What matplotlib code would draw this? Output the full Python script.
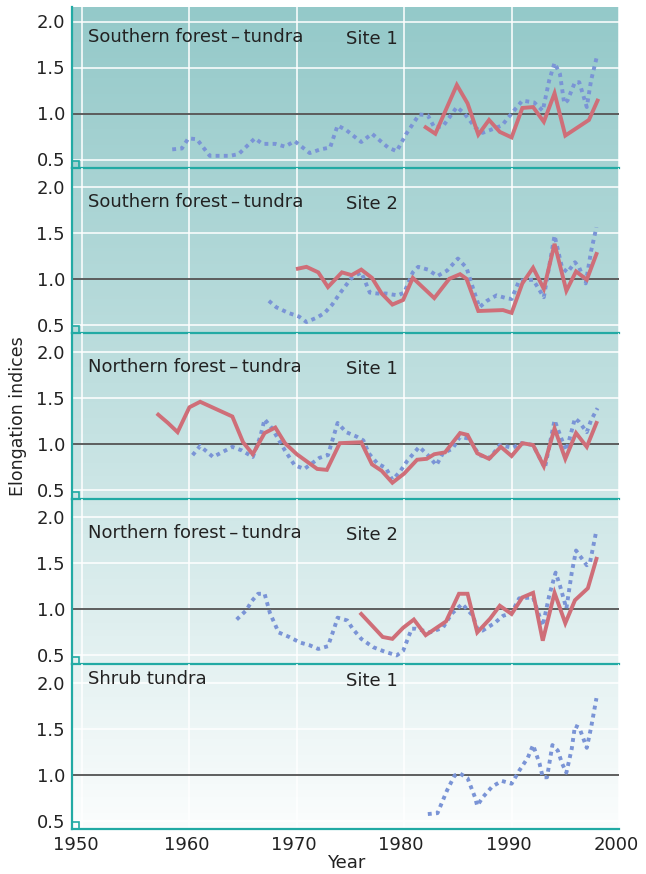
import numpy as np
import matplotlib
matplotlib.use("Agg")
import matplotlib.pyplot as plt
from matplotlib.patches import Rectangle
from matplotlib.colors import LinearSegmentedColormap
from matplotlib.transforms import ScaledTranslation

plt.rcParams['font.family'] = ['DejaVu Sans']

# ---------------- data ----------------
panel_titles = ["Southern forest\u2009\u2013\u2009tundra", "Southern forest\u2009\u2013\u2009tundra",
                "Northern forest\u2009\u2013\u2009tundra", "Northern forest\u2009\u2013\u2009tundra",
                "Shrub tundra"]
site_labels = ["Site 1", "Site 2", "Site 1", "Site 2", "Site 1"]

# Panel 1
p1_blue_x = [1958.4, 1959.3, 1959.9, 1960.7, 1961.9, 1963.8, 1964.6, 1966.1, 1966.8, 1968.0, 1968.9,
             1969.8, 1971.2, 1972.2, 1973.1, 1973.8, 1974.6, 1976.0, 1977.0, 1977.5, 1978.5, 1979.3,
             1980.2, 1981.4, 1982.2, 1982.8, 1983.6, 1984.9, 1985.6, 1986.6, 1987.3, 1988.0, 1989.1,
             1990.0, 1991.0, 1992.1, 1992.9, 1993.5, 1994.0, 1994.5, 1994.9, 1995.2, 1995.9, 1996.3,
             1997.0, 1997.4, 1997.9]
p1_blue_y = [0.61, 0.62, 0.73, 0.72, 0.54, 0.54, 0.56, 0.73, 0.67, 0.67, 0.64,
             0.70, 0.57, 0.61, 0.63, 0.87, 0.82, 0.69, 0.78, 0.73, 0.63, 0.59,
             0.78, 0.99, 0.98, 0.85, 0.86, 1.07, 1.00, 0.85, 0.79, 0.82, 0.87,
             1.00, 1.14, 1.12, 1.03, 1.36, 1.55, 1.43, 1.11, 1.14, 1.34, 1.34,
             1.07, 1.36, 1.60]
p1_red_x = [1982.0, 1982.9, 1984.9, 1985.9, 1986.9, 1987.9, 1988.9, 1990.0, 1991.0, 1992.0, 1993.0,
            1994.0, 1995.0, 1997.2, 1998.0]
p1_red_y = [0.85, 0.78, 1.31, 1.11, 0.77, 0.93, 0.80, 0.74, 1.06, 1.07, 0.91,
            1.22, 0.76, 0.93, 1.14]

# Panel 2
p2_blue_x = [1967.4, 1968.1, 1969.2, 1970.2, 1970.9, 1971.9, 1972.6, 1973.3, 1974.0, 1975.1, 1976.0,
             1976.8, 1977.5, 1978.3, 1979.4, 1980.0, 1980.8, 1981.3, 1982.2, 1983.1, 1984.0, 1985.0,
             1985.8, 1986.4, 1987.0, 1987.7, 1988.6, 1989.5, 1990.0, 1990.7, 1992.0, 1993.0, 1994.0,
             1994.7, 1995.2, 1995.9, 1996.3, 1996.9, 1997.4, 1997.9]
p2_blue_y = [0.76, 0.69, 0.63, 0.59, 0.53, 0.58, 0.63, 0.72, 0.84, 1.01, 1.07,
             0.85, 0.84, 0.84, 0.82, 0.85, 1.07, 1.13, 1.10, 1.03, 1.09, 1.22,
             1.12, 0.90, 0.69, 0.76, 0.82, 0.79, 0.78, 0.98, 0.99, 0.80, 1.47,
             1.12, 1.07, 1.18, 1.12, 0.95, 1.30, 1.56]
p2_red_x = [1970.1, 1970.9, 1972.0, 1972.9, 1974.2, 1975.1, 1976.0, 1977.0, 1977.9, 1978.9, 1979.9,
            1980.8, 1982.8, 1984.2, 1985.2, 1985.8, 1986.9, 1989.2, 1990.0, 1991.0, 1992.0, 1993.0,
            1994.0, 1995.1, 1996.0, 1997.0, 1997.9]
p2_red_y = [1.11, 1.13, 1.07, 0.91, 1.07, 1.04, 1.10, 1.01, 0.84, 0.72, 0.77,
            1.01, 0.79, 1.00, 1.05, 1.00, 0.65, 0.66, 0.63, 0.95, 1.12, 0.89,
            1.38, 0.87, 1.08, 0.99, 1.27]

# Panel 3
p3_blue_x = [1960.3, 1961.0, 1962.2, 1964.0, 1964.9, 1965.9, 1966.6, 1967.0, 1967.7, 1968.9, 1969.8,
             1970.7, 1972.1, 1972.9, 1973.8, 1974.6, 1975.6, 1976.2, 1976.7, 1977.5, 1978.3, 1978.9,
             1979.6, 1980.3, 1981.4, 1982.2, 1983.0, 1983.6, 1984.5, 1985.2, 1986.0, 1987.0, 1988.0,
             1988.9, 1990.1, 1990.9, 1992.0, 1993.1, 1994.0, 1994.7, 1995.1, 1995.9, 1996.3, 1997.0,
             1997.4, 1998.0]
p3_blue_y = [0.88, 0.98, 0.86, 0.97, 0.93, 0.86, 1.08, 1.27, 1.17, 0.93, 0.77,
             0.73, 0.85, 0.88, 1.23, 1.13, 1.08, 1.04, 0.90, 0.79, 0.74, 0.61,
             0.70, 0.82, 0.97, 0.88, 0.77, 0.90, 0.95, 1.08, 1.06, 0.88, 0.85,
             0.99, 0.96, 1.01, 0.99, 0.74, 1.26, 1.04, 0.93, 1.28, 1.24, 1.13,
             1.26, 1.39]
p3_red_x = [1957.1, 1958.0, 1958.9, 1960.0, 1961.0, 1964.0, 1965.0, 1965.9, 1967.0, 1968.0, 1968.9,
            1970.0, 1971.9, 1972.8, 1974.0, 1976.0, 1977.0, 1977.9, 1978.9, 1980.0, 1981.2, 1982.1,
            1982.8, 1983.8, 1985.2, 1985.9, 1986.8, 1987.9, 1989.0, 1990.0, 1991.0, 1992.0, 1993.0,
            1994.0, 1995.0, 1996.0, 1997.0, 1997.9]
p3_red_y = [1.32, 1.23, 1.13, 1.40, 1.46, 1.30, 1.02, 0.89, 1.12, 1.18, 1.01,
            0.89, 0.73, 0.72, 1.01, 1.02, 0.78, 0.71, 0.58, 0.68, 0.83, 0.84,
            0.89, 0.91, 1.12, 1.10, 0.90, 0.84, 0.97, 0.87, 1.01, 0.99, 0.76,
            1.17, 0.84, 1.12, 0.97, 1.23]

# Panel 4
p4_blue_x = [1964.4, 1965.3, 1965.8, 1966.4, 1967.0, 1967.5, 1968.0, 1968.3, 1969.3, 1970.3, 1971.2,
             1972.0, 1972.9, 1973.5, 1973.8, 1974.7, 1975.2, 1976.0, 1977.1, 1978.2, 1979.3, 1979.9,
             1980.7, 1981.1, 1982.4, 1983.6, 1984.4, 1985.4, 1986.4, 1986.8, 1987.3, 1988.4, 1989.2,
             1990.0, 1990.7, 1992.0, 1992.9, 1993.5, 1994.1, 1994.5, 1995.1, 1995.6, 1996.0, 1997.0,
             1997.3, 1997.9]
p4_blue_y = [0.89, 0.99, 1.09, 1.17, 1.17, 0.96, 0.83, 0.75, 0.70, 0.64, 0.61,
             0.57, 0.60, 0.80, 0.91, 0.88, 0.79, 0.68, 0.59, 0.54, 0.50, 0.55,
             0.79, 0.79, 0.75, 0.80, 0.95, 1.06, 0.93, 0.79, 0.77, 0.85, 0.93,
             0.96, 1.12, 1.13, 0.82, 1.15, 1.40, 1.26, 1.01, 1.40, 1.64, 1.48,
             1.51, 1.86]
p4_red_x = [1976.0, 1978.0, 1978.9, 1979.9, 1980.9, 1982.0, 1983.9, 1985.1, 1985.9, 1986.8, 1988.0,
            1988.9, 1990.0, 1991.0, 1992.0, 1992.9, 1994.0, 1995.0, 1995.9, 1997.1, 1997.9]
p4_red_y = [0.95, 0.70, 0.68, 0.80, 0.89, 0.72, 0.87, 1.17, 1.17, 0.75, 0.90,
            1.04, 0.95, 1.13, 1.18, 0.66, 1.18, 0.85, 1.10, 1.23, 1.55]

# Panel 5
p5_blue_x = [1982.2, 1983.1, 1984.0, 1984.7, 1985.2, 1985.9, 1986.6, 1986.8, 1987.3, 1988.2, 1989.1,
             1990.0, 1990.7, 1991.5, 1992.0, 1992.6, 1992.9, 1993.3, 1993.8, 1994.3, 1994.7, 1995.1,
             1995.6, 1995.9, 1996.3, 1997.0, 1997.4, 1997.9]
p5_blue_y = [0.57, 0.58, 0.83, 0.99, 1.01, 0.96, 0.75, 0.66, 0.75, 0.87, 0.93,
             0.90, 1.04, 1.18, 1.32, 1.12, 0.97, 0.97, 1.32, 1.26, 1.12, 1.02,
             1.28, 1.53, 1.51, 1.29, 1.51, 1.83]
p5_red_x = []
p5_red_y = []

blue_series = [(p1_blue_x, p1_blue_y), (p2_blue_x, p2_blue_y), (p3_blue_x, p3_blue_y),
               (p4_blue_x, p4_blue_y), (p5_blue_x, p5_blue_y)]
red_series = [(p1_red_x, p1_red_y), (p2_red_x, p2_red_y), (p3_red_x, p3_red_y),
              (p4_red_x, p4_red_y), (p5_red_x, p5_red_y)]

y_ticks = [0.5, 1.0, 1.5, 2.0]
y_ticklabels = ["0.5", "1.0", "1.5", "2.0"]
x_ticks = [1950, 1960, 1970, 1980, 1990, 2000]
x_ticklabels = ["1950", "1960", "1970", "1980", "1990", "2000"]

# ---------------- layout ----------------
W, H = 646, 874
fig = plt.figure(figsize=(W / 100, H / 100), dpi=100)

TEAL = "#22aaa4"
RED = "#cf6e78"
BLUE = "#7a94d6"
TEXT = "#222222"
FS = 13

left_px, right_px = 72, 619
bounds = [(7, 168), (168, 333.3), (333.3, 498.6), (498.6, 663.9), (663.9, 829)]
ppu = 92.0  # pixels per unit y

# background gradient axes
bg = fig.add_axes([left_px / W, 1 - 829 / H, (right_px - left_px) / W, (829 - 7) / H], zorder=0)
cmap = LinearSegmentedColormap.from_list("bg", ["#94c9c9", "#c3e1e1", "#fbfdfd"])
grad = np.linspace(0, 1, 256).reshape(-1, 1)
bg.imshow(grad, aspect="auto", cmap=cmap, extent=[0, 1, 0, 1], origin="upper")
bg.set_axis_off()

x_left = 1950 - (82 - left_px) / 10.75
x_right = 1950 + (right_px - 82) / 10.75

for i, (top, bot) in enumerate(bounds):
    ax = fig.add_axes([left_px / W, 1 - bot / H, (right_px - left_px) / W, (bot - top) / H], zorder=2)
    ax.patch.set_alpha(0)
    y0 = 0.5 - 8.5 / ppu
    y1 = y0 + (bot - top) / ppu
    ax.set_xlim(x_left, x_right)
    ax.set_ylim(y0, y1)
    ax.set_yticks(y_ticks)
    ax.set_yticklabels(y_ticklabels)
    ax.set_xticks(x_ticks)
    ax.tick_params(axis="y", length=0, labelsize=FS, colors=TEXT, pad=5)
    ax.tick_params(axis="x", length=0, labelsize=FS, colors=TEXT, pad=5)
    ax.grid(True, color="white", lw=1.1, zorder=1)
    for s in ["top", "right"]:
        ax.spines[s].set_visible(False)
    ax.spines["left"].set_color(TEAL)
    ax.spines["left"].set_linewidth(1.6)
    ax.spines["bottom"].set_color(TEAL)
    ax.spines["bottom"].set_linewidth(1.6)
    ax.axhline(1.0, color="#333333", lw=1.1, zorder=2)
    bx, by = blue_series[i]
    if bx:
        ax.plot(bx, by, color=BLUE, lw=2.8, dashes=(1.0, 1.1), dash_capstyle="butt", zorder=3)
    rx, ry = red_series[i]
    if rx:
        ax.plot(rx, ry, color=RED, lw=2.8, solid_joinstyle="miter", zorder=4)
    # small square marker at bottom-left
    sq_w = 7 / (right_px - left_px)
    sq_h = 7 / (bot - top)
    ax.add_patch(Rectangle((0, 0), sq_w, sq_h, transform=ax.transAxes, fill=False,
                           edgecolor=TEAL, lw=1.2, zorder=5, clip_on=False))
    if i < len(bounds) - 1:
        ax.tick_params(labelbottom=False)
    else:
        ax.set_xticklabels(x_ticklabels)
        for j, lab in enumerate(ax.get_xticklabels()):
            dx = -6 if j == 0 else -3
            lab.set_transform(lab.get_transform() + ScaledTranslation(dx / 100, 0, fig.dpi_scale_trans))

    # panel titles (baseline positions in pixels)
    if i == 0:
        tb, sb = 42, 43.5
    elif i == 4:
        tb, sb = top + 20, top + 22
    else:
        tb, sb = top + 39, top + 41
    fig.text(88 / W, 1 - tb / H, panel_titles[i], fontsize=FS, color=TEXT, va="baseline", ha="left")
    fig.text(346 / W, 1 - sb / H, site_labels[i], fontsize=FS, color=TEXT, va="baseline", ha="left")

fig.text(18 / W, 1 - 416 / H, "Elongation indices", rotation=90, fontsize=12.5, color=TEXT,
         va="center", ha="center")
fig.text(346 / W, 1 - 863 / H, "Year", fontsize=FS, color=TEXT, va="center", ha="center")

fig.savefig("out.png", dpi=100)
